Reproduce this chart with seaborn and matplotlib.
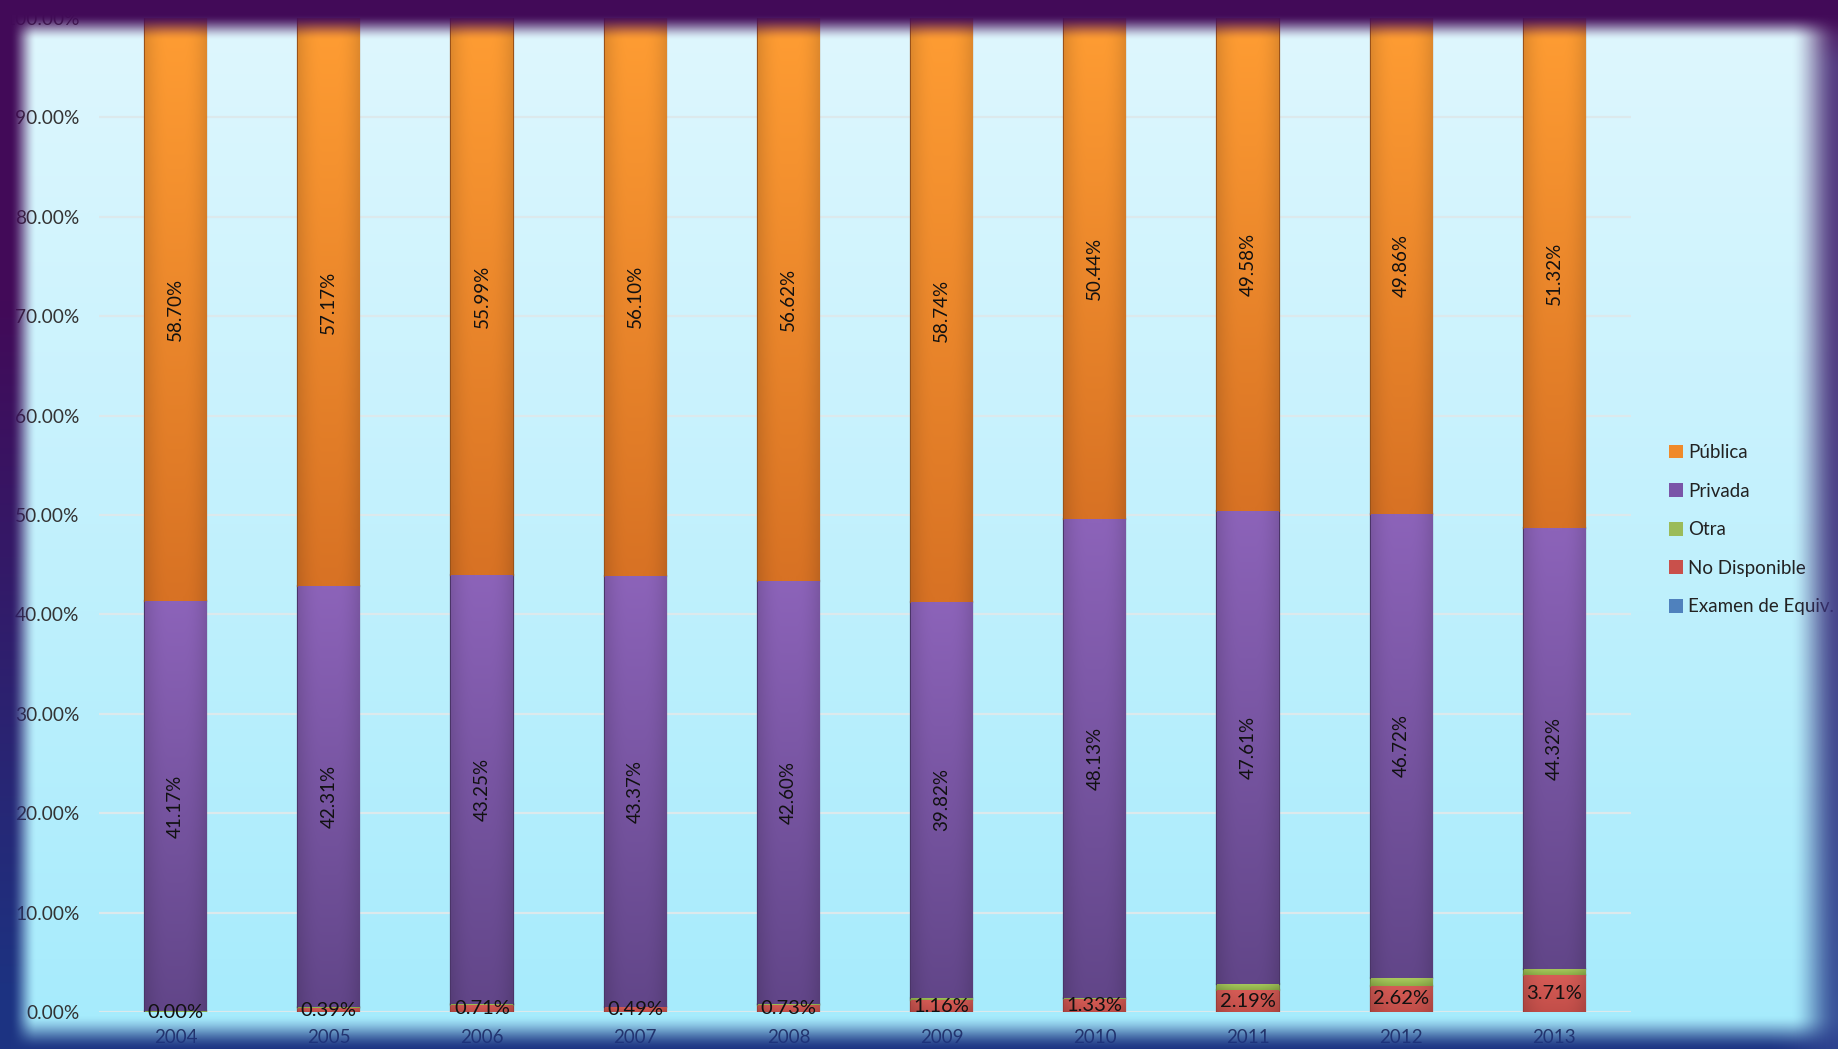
import numpy as np
import pandas as pd
import matplotlib
matplotlib.use("Agg")
import matplotlib.pyplot as plt
import seaborn as sns
from matplotlib.colors import to_rgb
from matplotlib.patches import Patch

# datos (porcentajes por tipo de escuela de procedencia)
YEARS = ["2004", "2005", "2006", "2007", "2008", "2009", "2010", "2011", "2012", "2013"]
PUBLICA = [58.70, 57.17, 55.99, 56.10, 56.62, 58.74, 50.44, 49.58, 49.86, 51.32]
PRIVADA = [41.17, 42.31, 43.25, 43.37, 42.60, 39.82, 48.13, 47.61, 46.72, 44.32]
OTRA = [0.13, 0.13, 0.05, 0.04, 0.05, 0.28, 0.10, 0.62, 0.80, 0.65]
NO_DISP = [0.00, 0.39, 0.71, 0.49, 0.73, 1.16, 1.33, 2.19, 2.62, 3.71]
EXAMEN = [0.00, 0.00, 0.00, 0.00, 0.00, 0.00, 0.00, 0.00, 0.00, 0.00]

SERIES = ["Examen de Equiv.", "No Disponible", "Otra", "Privada", "Pública"]
# (color claro arriba, color oscuro abajo, borde)
STYLE = {
    "Pública":          ("#FF9D33", "#D87224", "#9A5218"),
    "Privada":          ("#8C63B9", "#624689", "#4A3468"),
    "Otra":             ("#AACB5E", "#8DAF48", "#6F8A38"),
    "No Disponible":    ("#D65C56", "#C24E49", "#9C3C38"),
    "Examen de Equiv.": ("#5A8CC8", "#4676B0", "#345A88"),
}
LEGEND_COL = {"Pública": "#F08A2A", "Privada": "#7A55A8", "Otra": "#9BBB59",
              "No Disponible": "#C9504B", "Examen de Equiv.": "#4F81BD"}

W, H = 1838, 1049


def shade(ax, patch, top_hex, bot_hex):
    h = patch.get_height()
    if h <= 0:
        return
    x0, y0, w = patch.get_x(), patch.get_y(), patch.get_width()
    t = np.linspace(0, 1, 64)[:, None, None]
    top, bot = np.array(to_rgb(top_hex)), np.array(to_rgb(bot_hex))
    img = top + (bot - top) * t
    u = np.linspace(-1, 1, 40)[None, :, None]
    img = img * (1 - 0.12 * np.clip(np.abs(u) * 1.3 - 0.3, 0, 1) ** 2)
    img = np.clip(img, 0, 1)
    im = ax.imshow(img, extent=[x0, x0 + w, y0, y0 + h], aspect="auto",
                   origin="upper", interpolation="bilinear", zorder=2.1)
    im.set_clip_path(patch)


sns.set_theme(style="white")
plt.rcParams["font.family"] = ["Lato", "DejaVu Sans"]

fig = plt.figure(figsize=(W / 100, H / 100), dpi=100)

# fondo degradado
bg = fig.add_axes([0, 0, 1, 1], zorder=0)
v = np.linspace(0, 1, 256)[:, None, None]
c_top, c_bot = np.array(to_rgb("#E0F7FE")), np.array(to_rgb("#A5EBFC"))
bg.imshow(c_top + (c_bot - c_top) * v, aspect="auto", extent=[0, 1, 0, 1], origin="upper")
bg.axis("off")

ax = fig.add_axes([99 / W, 37 / H, (1631 - 99) / W, 994 / H], zorder=1)
ax.patch.set_alpha(0)

df = pd.DataFrame({"year": YEARS, "Examen de Equiv.": EXAMEN, "No Disponible": NO_DISP,
                   "Otra": OTRA, "Privada": PRIVADA, "Pública": PUBLICA})

bottom = np.zeros(len(YEARS))
layer_patches = {}
for name in SERIES:
    top_c, bot_c, edge_c = STYLE[name]
    n0 = len(ax.patches)
    sns.barplot(data=df, x="year", y=name, color=bot_c, saturation=1, width=0.4,
                bottom=bottom.copy(), errorbar=None, edgecolor=edge_c, linewidth=1.6,
                ax=ax, zorder=2)
    layer_patches[name] = ax.patches[n0:]
    for p in layer_patches[name]:
        shade(ax, p, top_c, bot_c)
    bottom = bottom + df[name].values

# etiquetas de datos
for name, rot, fs in [("Pública", 90, 13.5), ("Privada", 90, 13.5), ("No Disponible", 0, 14.5)]:
    for p, val in zip(layer_patches[name], df[name].values):
        ax.text(p.get_x() + p.get_width() / 2, p.get_y() + p.get_height() / 2,
                f"{val:.2f}%", rotation=rot, ha="center", va="center",
                fontsize=fs, color="#111111", zorder=4)

ax.set_xlim(-0.5, len(YEARS) - 0.5)
ax.set_ylim(0, 100)
ax.set_yticks(np.arange(0, 101, 10))
ax.set_yticklabels([f"{t:.2f}%" for t in np.arange(0, 101, 10)])
ax.set_xlabel("")
ax.set_ylabel("")
ax.yaxis.grid(True, color="#DCE9EC", linewidth=1.6)
ax.xaxis.grid(False)
ax.set_axisbelow(True)
for s in ax.spines.values():
    s.set_visible(False)
ax.tick_params(axis="y", length=0, pad=14, labelsize=13.8, labelcolor="#333333")
ax.tick_params(axis="x", length=0, pad=12, labelsize=13.5, labelcolor="#2A3558")

handles = [Patch(facecolor=LEGEND_COL[n], edgecolor="none") for n in SERIES[::-1]]
ax.legend(handles, SERIES[::-1], loc="center left", bbox_to_anchor=(1660 / W, 0.495),
          bbox_transform=fig.transFigure, frameon=False, borderpad=0, fontsize=13.5,
          handlelength=0.75, handleheight=0.75, handletextpad=0.25, labelspacing=1.15,
          labelcolor="#222222")

# marco oscuro difuminado
yy, xx = np.mgrid[0:H, 0:W].astype(float)


def ramp(d, width):
    t = np.clip(d / width, 0, 1)
    return t * t * (3 - 2 * t)


a_top = ramp(40 - yy, 26)
a_left = ramp(36 - xx, 26)
a_right = ramp(xx - 1790, 48) * 0.9
a_bot = ramp(yy - 1014, 36)
alpha = 1 - (1 - a_top) * (1 - a_left) * (1 - a_right) * (1 - a_bot)
vv = np.clip((yy - 300) / 700, 0, 1)[..., None]
purple, navy = np.array(to_rgb("#420A58")), np.array(to_rgb("#1C3382"))
col = purple + (navy - purple) * vv
right_tint = ramp(xx - 1760, 80)[..., None] * (1 - ramp(70 - yy, 50))[..., None] * 0.35
col = col + (np.array(to_rgb("#4E5FA8")) - col) * right_tint
frame = np.dstack([col, alpha])
ov = fig.add_axes([0, 0, 1, 1], zorder=5)
ov.imshow(frame, aspect="auto", extent=[0, 1, 0, 1], origin="upper")
ov.axis("off")

fig.savefig("out.png", dpi=100)
